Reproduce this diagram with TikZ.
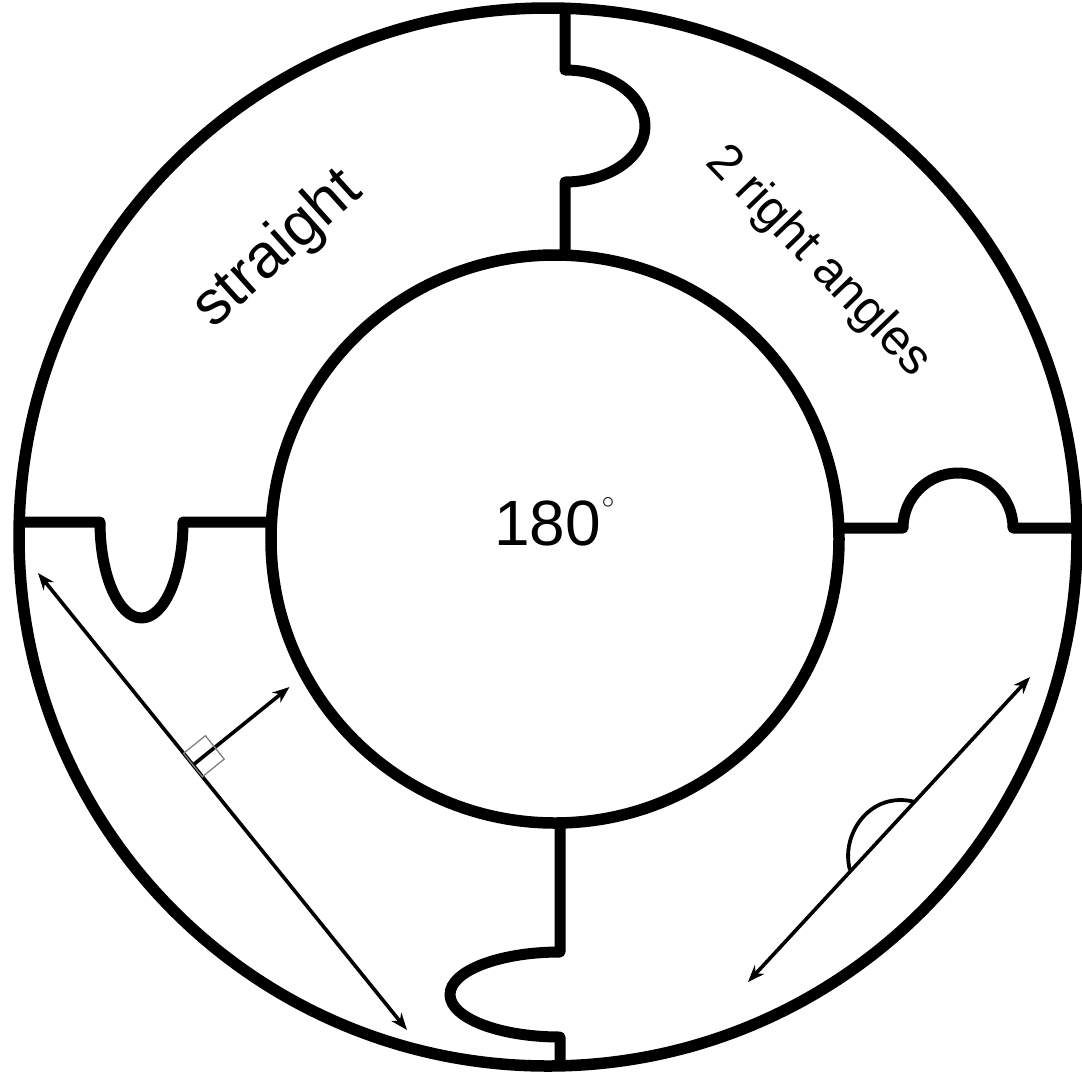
\documentclass[tikz,border=0pt]{standalone}
\usepackage{fontspec}
\setmainfont{Liberation Sans}
\usetikzlibrary{arrows.meta}
\begin{document}
\begin{tikzpicture}[x=1pt,y=-1pt,
  ring/.style={line width=11.5pt},
  piece/.style={line width=11pt, line join=round},
  dimarrow/.style={line width=3.6pt, {Stealth[length=17pt,width=13pt]}-{Stealth[length=17pt,width=13pt]}},
  onearrow/.style={line width=3.6pt, -{Stealth[length=17pt,width=13pt]}},
  rightmark/.style={draw=gray, line width=1.3pt},
  anglemark/.style={line width=3.8pt},
  lbl/.style={inner sep=0pt}]
\useasboundingbox (0,0) rectangle (1082,1080);
\fill[white] (0,0) rectangle (1082,1080);

% rings
\draw[ring] (548,537) circle[radius=529];
\draw[ring] (555,539) circle[radius=284];

% puzzle joints
\draw[piece] (565,7) -- (565,70) arc[start angle=-90, end angle=90, x radius=80, y radius=56] -- (565,255.5);
\draw[piece] (18,522) -- (100,522) arc[start angle=180, end angle=0, x radius=41.5, y radius=96] -- (271.5,522);
\draw[piece] (839,528) -- (903,528) arc[start angle=180, end angle=360, radius=55] -- (1078,528);
\draw[piece] (560,822.5) -- (560,952) arc[start angle=270, end angle=90, x radius=110, y radius=42.5] -- (560,1067);

% texts
\node[lbl, font=\fontsize{62}{62}\selectfont, rotate=42] (straight) at (278,250) {straight};
\node[lbl, font=\fontsize{50}{50}\selectfont, rotate=-46] (rightangles) at (818,262) {2 right angles};
\node[lbl, anchor=base west, font=\fontsize{64}{64}\selectfont] (deg) at (494,545) {180\kern1pt\raisebox{37pt}{\fontsize{30}{30}\selectfont$\circ$}};

% left: straight line with perpendicular
\coordinate (a1) at (38,573);
\coordinate (a2) at (407,1030);
\coordinate (foot) at (193,765);
\coordinate (ptip) at (289.5,687);
\draw[dimarrow] (a1) -- (a2);
\draw[onearrow] (foot) -- (ptip);
\draw[rightmark] (183.6,753.3) -- (205.4,735.7) -- (224.2,759.1) -- (202.4,776.7) -- cycle;

% right: straight line with half-turn arc
\coordinate (b1) at (748,982);
\coordinate (b2) at (1030,677);
\coordinate (e1) at (850,870);
\coordinate (e2) at (915,802);
\draw[dimarrow] (b1) -- (b2);
\draw[anglemark] (e1) .. controls (840,835) and (870,790) .. (e2);
\end{tikzpicture}
\end{document}
